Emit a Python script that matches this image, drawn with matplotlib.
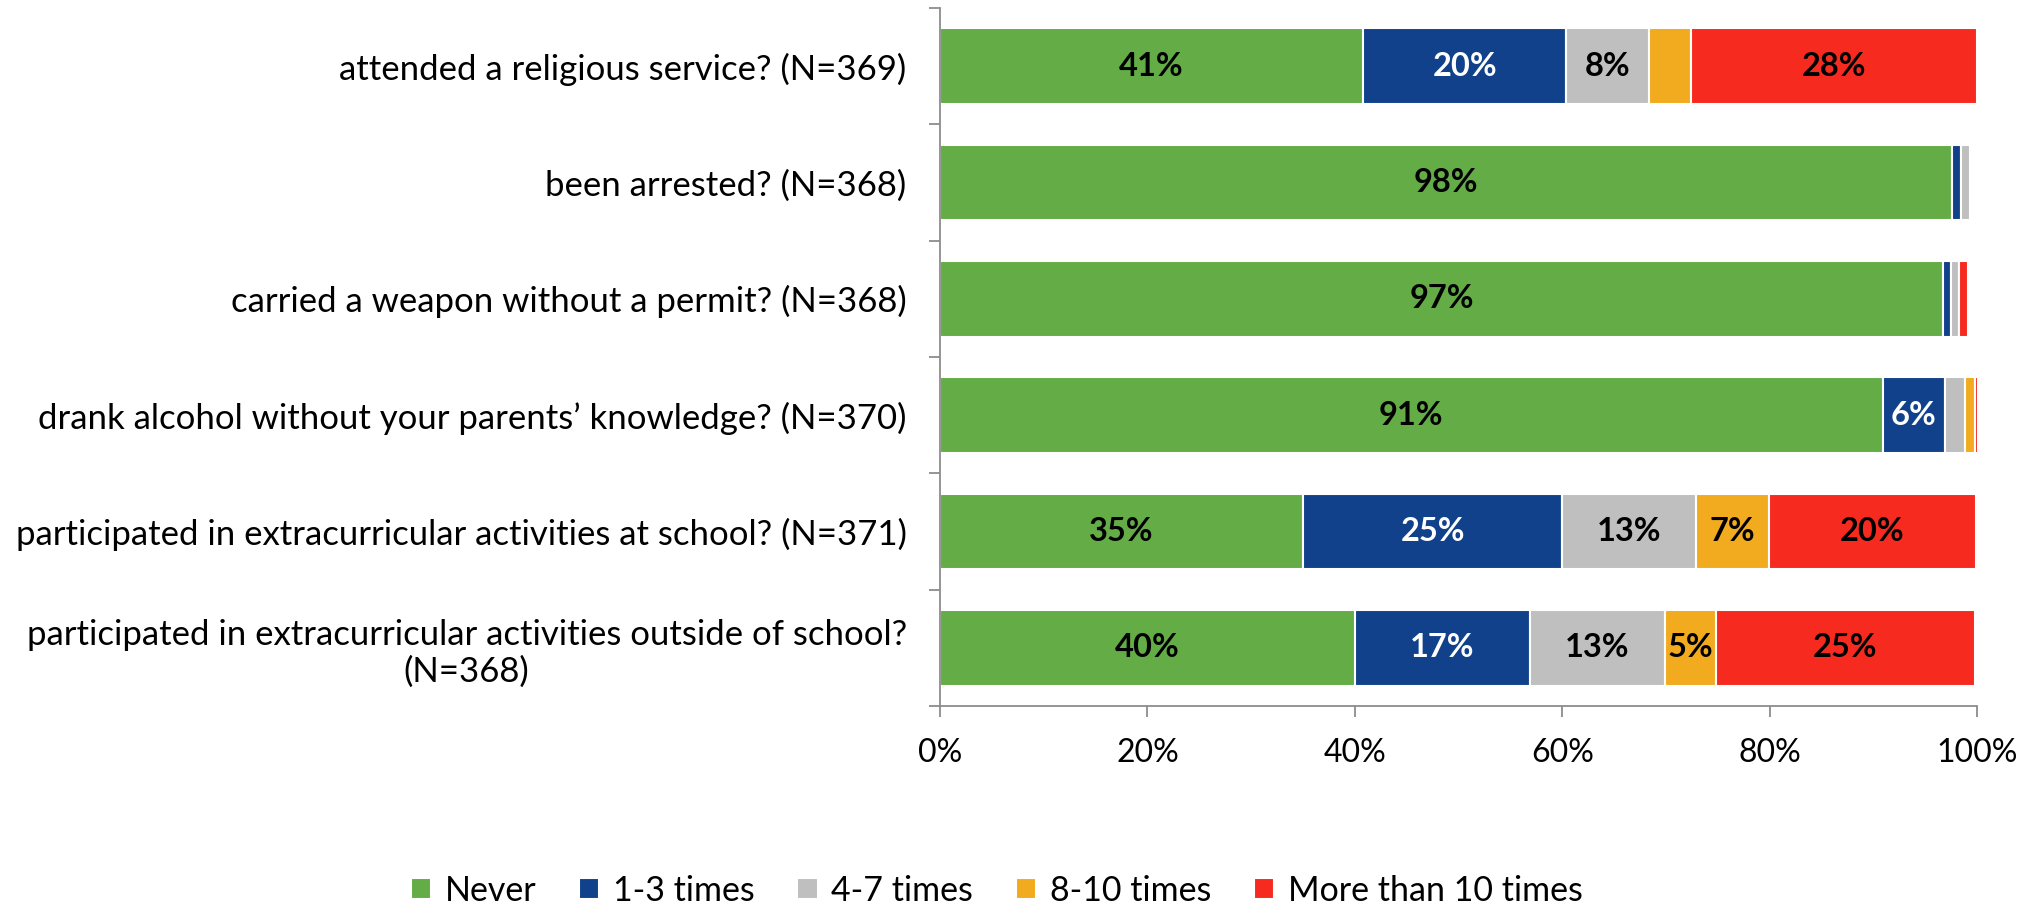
import matplotlib
matplotlib.use("Agg")
import matplotlib.pyplot as plt
import numpy as np

plt.rcParams['font.family'] = ['Lato', 'DejaVu Sans']

categories = [
    "attended a religious service? (N=369)",
    "been arrested? (N=368)",
    "carried a weapon without a permit? (N=368)",
    "drank alcohol without your parents\u2019 knowledge? (N=370)",
    "participated in extracurricular activities at school? (N=371)",
    "participated in extracurricular activities outside of school?\n(N=368)",
]
series_names = ["Never", "1-3 times", "4-7 times", "8-10 times", "More than 10 times"]
never = [40.8, 97.6, 96.7, 90.9, 35.0, 40.0]
times_1_3 = [19.6, 0.9, 0.8, 6.0, 25.0, 16.9]
times_4_7 = [8.0, 0.8, 0.8, 1.9, 12.9, 13.0]
times_8_10 = [4.0, 0.2, 0.0, 1.0, 7.0, 4.9]
more_10 = [27.6, 0.0, 0.8, 0.3, 20.0, 25.0]
x_ticks = [0, 20, 40, 60, 80, 100]
x_tick_labels = ["0%", "20%", "40%", "60%", "80%", "100%"]

colors = ["#63AC46", "#10418A", "#BFBFBF", "#F2AB1E", "#F72A20"]
label_colors = ["black", "white", "black", "black", "black"]
series = [never, times_1_3, times_4_7, times_8_10, more_10]

fig = plt.figure(figsize=(20.3, 9.07), dpi=100)
ax = fig.add_axes([940/2030, 1-706/907, (1977-940)/2030, (706-8)/907])

y = np.arange(len(categories))
left = np.zeros(len(categories))
for vals, col, lc, name in zip(series, colors, label_colors, series_names):
    vals = np.array(vals)
    ax.barh(y, vals, left=left, height=0.65, color=col, edgecolor="white",
            linewidth=1.5, label=name)
    for yi, (l, v) in enumerate(zip(left, vals)):
        if v >= 4.5:
            ax.text(l + v/2, yi, f"{v:.0f}%", ha="center", va="center",
                    fontsize=23.5, fontweight="bold", color=lc)
    left = left + vals

ax.set_xlim(0, 100)
ax.set_ylim(len(categories) - 0.5, -0.5)
ax.set_xticks(x_ticks)
ax.set_xticklabels(x_tick_labels, fontsize=23)
ax.set_yticks(y)
ax.set_yticklabels(categories, fontsize=25, multialignment="center", linespacing=1.2)
ax.set_yticks(np.arange(-0.5, len(categories)), minor=True)
ax.tick_params(axis="y", which="major", length=0, pad=24)
ax.tick_params(axis="y", which="minor", length=8, width=1.3, color="#8C8C8C", direction="out")
ax.tick_params(axis="x", which="major", length=8, width=1.3, color="#8C8C8C", pad=15)
for s in ["top", "right"]:
    ax.spines[s].set_visible(False)
for s in ["left", "bottom"]:
    ax.spines[s].set_color("#8C8C8C")
    ax.spines[s].set_linewidth(1.3)

handles, labels = ax.get_legend_handles_labels()
fig.legend(handles, labels, loc="center", bbox_to_anchor=(0.491, 0.018), ncol=5,
           frameon=False, fontsize=24.5, handlelength=0.6, handleheight=0.6,
           handletextpad=0.4, columnspacing=1.25)

fig.savefig("out.png", dpi=100)
